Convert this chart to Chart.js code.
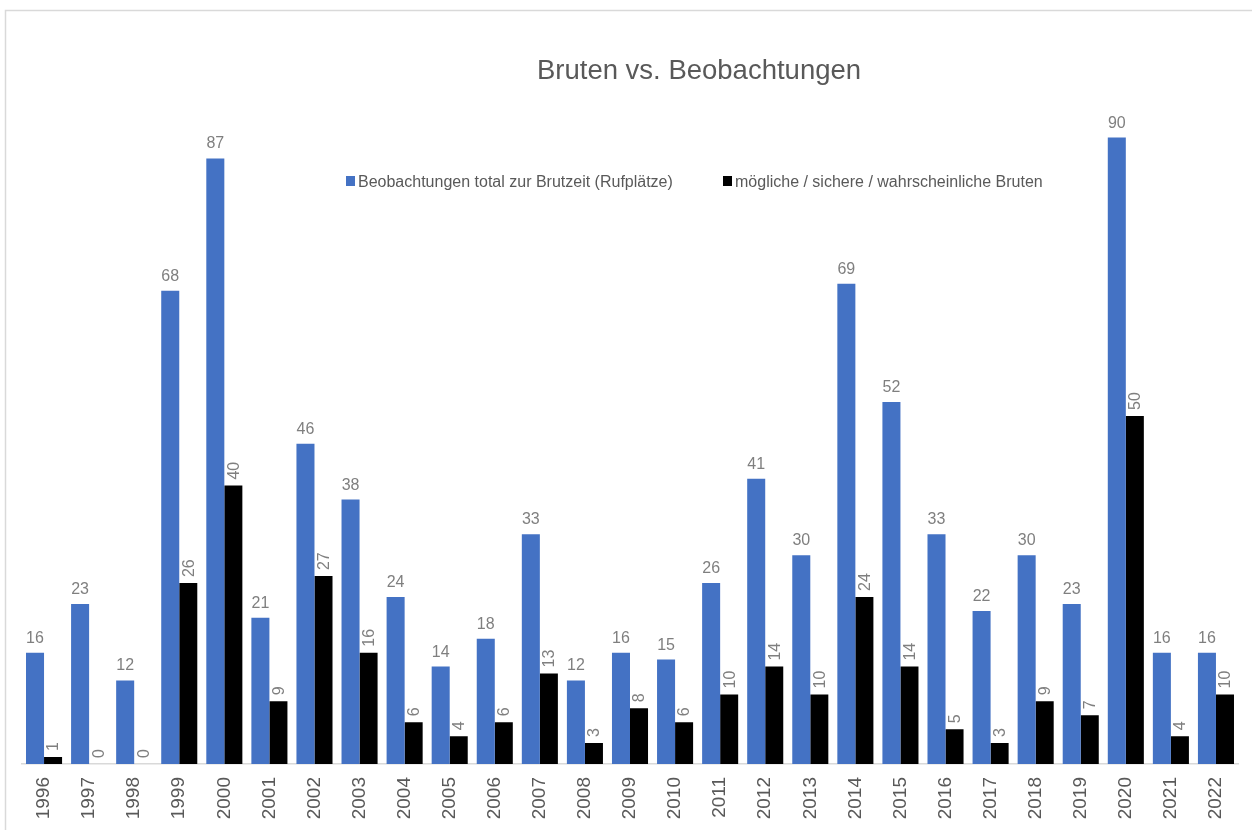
<!DOCTYPE html>
<html>
<head>
<meta charset="utf-8">
<script src="https://cdn.jsdelivr.net/npm/chart.js@4"></script>
<style>
  body { margin: 0; background: #fff; }
</style>
</head>
<body>
<canvas id="grafico" width="1252" height="830"></canvas>
<script>
var jahre = ["1996", "1997", "1998", "1999", "2000", "2001", "2002", "2003", "2004", "2005", "2006", "2007", "2008", "2009",
             "2010", "2011", "2012", "2013", "2014", "2015", "2016", "2017", "2018", "2019", "2020", "2021", "2022"];
var beobachtungen = [16, 23, 12, 68, 87, 21, 46, 38, 24, 14, 18, 33, 12, 16, 15, 26, 41, 30, 69, 52, 33, 22, 30, 23, 90, 16, 16];
var bruten = [1, 0, 0, 26, 40, 9, 27, 16, 6, 4, 6, 13, 3, 8, 6, 10, 14, 10, 24, 14, 5, 3, 9, 7, 50, 4, 10];
var serien = ["Beobachtungen total zur Brutzeit (Rufplätze)", "mögliche / sichere / wahrscheinliche Bruten"];
var farben = ["#4472C4", "#000000"];
var titel = "Bruten vs. Beobachtungen";

var schrift = "'Liberation Sans', Arial, sans-serif";

// Rahmen, Titel, Legende und Beschriftungen selbst zeichnen (wie in Excel)
var beschriftung = {
    id: 'beschriftung',
    beforeDraw: function(chart) {
        var c = chart.ctx;
        c.save();
        c.fillStyle = "#ffffff";
        c.fillRect(0, 0, chart.width, chart.height);
        c.strokeStyle = "#d9d9d9";
        c.lineWidth = 1.5;
        c.strokeRect(5.5, 10.5, 1300, 900);
        c.restore();
    },
    afterDatasetsDraw: function(chart) {
        var c = chart.ctx;
        c.save();
        c.fillStyle = "#7f7f7f";
        c.font = "16px " + schrift;

        // blaue Werte waagrecht ueber dem Balken
        chart.getDatasetMeta(0).data.forEach(function(bar, i) {
            c.textAlign = "center";
            c.textBaseline = "alphabetic";
            c.fillText(String(beobachtungen[i]), bar.x, bar.y - 10);
        });
        // schwarze Werte senkrecht
        chart.getDatasetMeta(1).data.forEach(function(bar, i) {
            c.save();
            c.translate(bar.x, bar.y - 6);
            c.rotate(-Math.PI / 2);
            c.textAlign = "left";
            c.textBaseline = "middle";
            c.fillText(String(bruten[i]), 0, 1);
            c.restore();
        });

        // Jahre an der x-Achse
        var x = chart.scales.x;
        c.fillStyle = "#595959";
        c.font = "19px " + schrift;
        jahre.forEach(function(j, i) {
            c.save();
            c.translate(x.getPixelForValue(i), chart.chartArea.bottom + 13);
            c.rotate(-Math.PI / 2);
            c.textAlign = "right";
            c.textBaseline = "middle";
            c.fillText(j, 0, 0);
            c.restore();
        });

        // Titel
        c.fillStyle = "#595959";
        c.font = "27.5px " + schrift;
        c.textAlign = "center";
        c.textBaseline = "alphabetic";
        c.fillText(titel, 699, 79);

        // Legende
        c.font = "16px " + schrift;
        c.textAlign = "left";
        var pos = [346, 723];
        serien.forEach(function(s, i) {
            c.fillStyle = farben[i];
            c.fillRect(pos[i], 176, 9, 10);
            c.fillStyle = "#595959";
            c.fillText(s, pos[i] + 12, 187);
        });
        c.restore();
    }
};

var ctx = document.getElementById("grafico").getContext("2d");

var grafico = new Chart(ctx, {
    type: 'bar',
    data: {
        labels: jahre,
        datasets: [{
            label: serien[0],
            data: beobachtungen,
            backgroundColor: farben[0]
        }, {
            label: serien[1],
            data: bruten,
            backgroundColor: farben[1]
        }]
    },
    options: {
        responsive: false,
        animation: false,
        layout: {
            padding: { left: 21.5, right: 13.5, top: 68, bottom: 0 }
        },
        datasets: {
            bar: {
                categoryPercentage: 0.8,
                barPercentage: 1.0
            }
        },
        scales: {
            x: {
                grid: { display: false },
                border: { display: true, color: "#d9d9d9", width: 1.5 },
                ticks: { display: false },
                afterFit: function(scale) { scale.height = 66; }
            },
            y: {
                display: false,
                min: 0,
                max: 100
            }
        },
        plugins: {
            legend: { display: false },
            title: { display: false },
            tooltip: { enabled: false }
        }
    },
    plugins: [beschriftung]
});
</script>
</body>
</html>
